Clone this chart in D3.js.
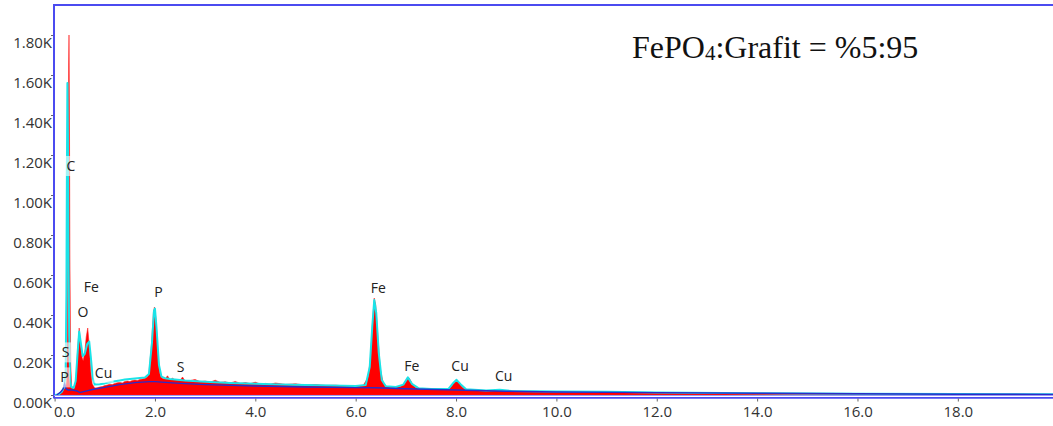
<!DOCTYPE html>
<html>
<head>
<meta charset="utf-8">
<script src="https://cdn.jsdelivr.net/npm/d3@7/dist/d3.min.js"></script>
<style>
  html, body { margin: 0; padding: 0; background: #fff; }
  svg { display: block; }
</style>
</head>
<body>
<svg id="chart" width="1053" height="426"></svg>
<script>
// ---- Data ----
// Measured spectrum (red fill): [energy keV, counts]
const spectrumCounts = [[0,0],[0.1,2],[0.15,15],[0.18,28],[0.2,35],[0.22,38],[0.24,70],[0.255,320],[0.27,1150],[0.28,1650],[0.287,1800],[0.295,1480],[0.305,700],[0.32,160],[0.34,45],[0.37,32],[0.4,36],[0.43,85],[0.46,230],[0.49,335],[0.52,245],[0.55,185],[0.57,172],[0.6,210],[0.63,290],[0.66,335],[0.69,250],[0.72,120],[0.75,55],[0.8,35],[0.85,36],[0.9,40],[0.95,42],[1.0,47],[1.05,50],[1.1,54],[1.15,52],[1.2,58],[1.25,61],[1.3,63],[1.35,60],[1.4,68],[1.45,70],[1.5,67],[1.55,73],[1.6,75],[1.65,72],[1.7,78],[1.75,80],[1.8,84],[1.85,90],[1.88,110],[1.93,250],[1.97,415],[1.99,440],[2.02,380],[2.06,200],[2.1,105],[2.15,82],[2.2,80],[2.25,96],[2.3,76],[2.35,84],[2.4,75],[2.5,74],[2.55,90],[2.6,70],[2.7,72],[2.8,78],[2.9,66],[3.0,70],[3.1,64],[3.2,74],[3.3,63],[3.4,66],[3.5,60],[3.6,68],[3.7,58],[3.8,62],[3.9,57],[4.0,64],[4.1,55],[4.2,58],[4.3,54],[4.4,60],[4.6,53],[4.8,56],[5.0,50],[5.2,52],[5.4,48],[5.6,49],[5.8,45],[6.0,46],[6.15,48],[6.25,90],[6.3,200],[6.34,380],[6.37,485],[6.4,450],[6.44,300],[6.49,130],[6.55,60],[6.62,42],[6.7,38],[6.8,40],[6.9,42],[6.97,60],[7.03,85],[7.07,84],[7.13,55],[7.2,36],[7.3,32],[7.5,30],[7.7,28],[7.88,34],[7.95,58],[8.01,76],[8.06,65],[8.12,40],[8.2,26],[8.4,24],[8.6,22],[8.8,22],[8.88,26],[8.96,22],[9.2,19],[9.5,17],[10,15],[11,13],[12,11],[13,8],[14,5],[15,3],[16,2],[18,1],[20,1]];

// Fitted spectrum (cyan line)
const fitCounts = [[0,0],[0.08,3],[0.15,18],[0.19,40],[0.22,110],[0.235,500],[0.245,1100],[0.255,1560],[0.265,1300],[0.275,800],[0.29,300],[0.31,80],[0.33,40],[0.38,35],[0.42,70],[0.46,215],[0.49,318],[0.52,265],[0.56,195],[0.6,205],[0.65,255],[0.69,267],[0.72,195],[0.76,85],[0.8,52],[0.9,54],[1.0,58],[1.1,64],[1.2,69],[1.3,73],[1.4,77],[1.5,80],[1.6,83],[1.7,85],[1.8,87],[1.88,105],[1.94,260],[1.98,420],[2.0,432],[2.03,340],[2.08,150],[2.13,92],[2.2,84],[2.3,80],[2.6,73],[3.0,66],[3.5,60],[4.0,56],[4.5,52],[5.0,50],[5.5,47],[6.0,45],[6.2,50],[6.28,140],[6.33,340],[6.37,475],[6.41,410],[6.46,210],[6.52,75],[6.6,44],[6.8,40],[6.95,52],[7.04,88],[7.12,56],[7.25,34],[7.5,30],[7.85,31],[7.93,56],[8.01,76],[8.09,54],[8.2,29],[8.6,23],[8.87,26],[9.1,20],[10,17],[11,16],[12,13],[14,9],[16,6],[18,4.5],[20,3.5]];

// Background (dark blue line)
const backgroundCounts = [[0.04,0],[0.12,15],[0.17,30],[0.2,55],[0.23,30],[0.27,25],[0.35,25],[0.45,20],[0.5,12],[0.6,18],[0.8,30],[1.0,38],[1.3,52],[1.6,62],[1.9,67],[2.0,67],[2.2,63],[2.5,58],[3.0,52],[4.0,45],[5.0,40],[6.0,37],[6.4,36],[7.0,31],[8.0,25],[9.0,19],[10,15],[12,12],[14,9],[16,6],[18,4],[20,3]];

// Element labels: text, energy (keV), count level of label centre
const peakLabels = ["C","O","Fe","P","S","P","Cu","S","Fe","Fe","Cu","Cu"];
const peakLabelEnergy = [0.327,0.566,0.73,2.07,0.217,0.197,0.975,2.51,6.45,7.12,8.08,8.95];
const peakLabelLevel = [1145,415,541,516,213,88,111,140,537,146,146,93];

const xTicks = [0,2,4,6,8,10,12,14,16,18];
const yTicks = [0,200,400,600,800,1000,1200,1400,1600,1800];

// ---- Chart ----
const svg = d3.select("#chart");
const x = d3.scaleLinear().domain([0, 20]).range([54.6, 54.6 + 20 * 50.18]);
const y = d3.scaleLinear().domain([0, 1950]).range([395, 5]);

const frameBlue = "#4b4bf0";
const font = "'Open Sans', 'DejaVu Sans', sans-serif";

// Red measured spectrum
const area = d3.area().x(d => x(d[0])).y0(y(0)).y1(d => y(d[1]));
svg.append("path").datum(spectrumCounts)
  .attr("d", area).attr("fill", "#ff0000").attr("stroke", "#ff2020").attr("stroke-width", 0.6);

// Cyan fit
const line = d3.line().x(d => x(d[0])).y(d => y(d[1]));
svg.append("path").datum(fitCounts)
  .attr("d", line).attr("fill", "none").attr("stroke", "#1ae3e8").attr("stroke-width", 2)
  .attr("stroke-linejoin", "round");

// Background
svg.append("path").datum(backgroundCounts)
  .attr("d", line).attr("fill", "none").attr("stroke", "#2b2bc8").attr("stroke-width", 1.4);

// Labels with translucent white boxes
const labelG = svg.append("g").attr("font-family", font).attr("font-size", 14).attr("fill", "#222");
peakLabels.forEach((t, i) => {
  const cx = x(peakLabelEnergy[i]), cy = y(peakLabelLevel[i]);
  const w = t.length * 9 + 2;
  labelG.append("rect").attr("x", cx - w / 2).attr("y", cy - 10).attr("width", w).attr("height", 20)
    .attr("fill", "#fff").attr("opacity", 0.6);
  labelG.append("text").attr("x", cx).attr("y", cy + 5).attr("text-anchor", "middle").text(t);
});

// Frame
svg.append("line").attr("x1", 54).attr("x2", 1053).attr("y1", 5).attr("y2", 5)
  .attr("stroke", frameBlue).attr("stroke-width", 2);
svg.append("line").attr("x1", 54).attr("x2", 54).attr("y1", 4).attr("y2", 398.5)
  .attr("stroke", frameBlue).attr("stroke-width", 2);
svg.append("line").attr("x1", 54).attr("x2", 1053).attr("y1", 395.5).attr("y2", 395.5)
  .attr("stroke", "#9a9af5").attr("stroke-width", 1);
svg.append("line").attr("x1", 54).attr("x2", 1053).attr("y1", 397.8).attr("y2", 397.8)
  .attr("stroke", frameBlue).attr("stroke-width", 1.8);

// Y axis
const yAxis = d3.axisLeft(y).tickValues(yTicks).tickSize(2).tickPadding(2)
  .tickFormat(d => (d / 1000).toFixed(2) + "K");
const gy = svg.append("g").attr("transform", "translate(53,0)").call(yAxis);
gy.select(".domain").remove();
gy.selectAll(".tick line").attr("stroke", "#666");
gy.selectAll("text").attr("font-family", font).attr("font-size", 15).attr("fill", "#333")
  .attr("dy", "0.82em").attr("x", -1);

// X axis
const xAxis = d3.axisBottom(x).tickValues(xTicks).tickSize(3).tickPadding(5)
  .tickFormat(d => d.toFixed(1));
const gx = svg.append("g").attr("transform", "translate(0,398.5)").call(xAxis);
gx.select(".domain").remove();
gx.selectAll(".tick line").attr("stroke", "#666");
gx.selectAll("text").attr("font-family", font).attr("font-size", 15).attr("fill", "#333");
gx.selectAll("text").filter(d => d === 0).attr("text-anchor", "start").attr("dx", -1);

// Title
const title = svg.append("text").attr("x", 632).attr("y", 58)
  .attr("font-family", "'Liberation Serif', 'Times New Roman', serif").attr("font-size", 32).attr("fill", "#111");
title.append("tspan").text("FePO");
title.append("tspan").attr("font-size", 21).attr("dy", 2).text("4");
title.append("tspan").attr("dy", -2).text(":Grafit = %5:95");
</script>
</body>
</html>
